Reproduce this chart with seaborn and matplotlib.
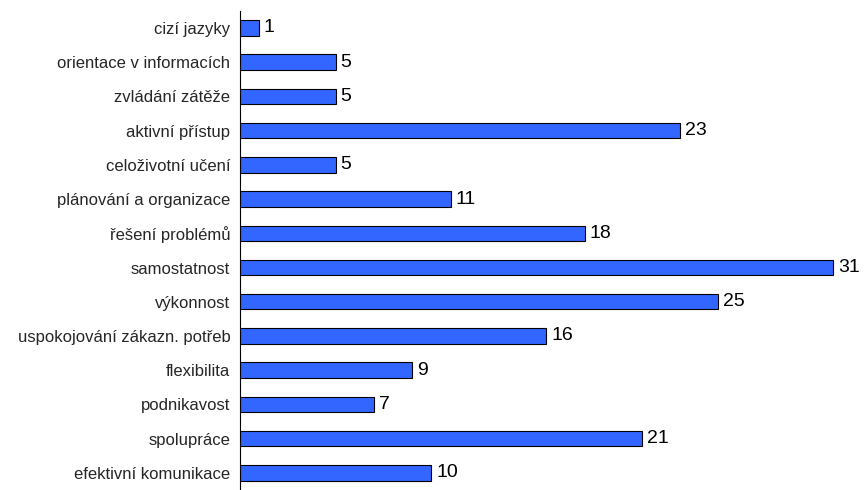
import matplotlib
matplotlib.use("Agg")
import matplotlib.pyplot as plt
import seaborn as sns
import pandas as pd
import numpy as np

# chart data (top to bottom)
categories = [
    "cizí jazyky",
    "orientace v informacích",
    "zvládání zátěže",
    "aktivní přístup",
    "celoživotní učení",
    "plánování a organizace",
    "řešení problémů",
    "samostatnost",
    "výkonnost",
    "uspokojování zákazn. potřeb",
    "flexibilita",
    "podnikavost",
    "spolupráce",
    "efektivní komunikace",
]
values = [1, 5, 5, 23, 5, 11, 18, 31, 25, 16, 9, 7, 21, 10]

df = pd.DataFrame({"kategorie": categories, "pocet": values})

sns.set_style("white")
plt.rcParams["font.family"] = ["Liberation Sans", "DejaVu Sans"]

fig = plt.figure(figsize=(8.65, 4.9), dpi=100)
ax = fig.add_axes([0.2775, 0.0, 0.708, 0.978])

sns.barplot(data=df, x="pocet", y="kategorie", orient="h", color="#3366FF",
            saturation=1, edgecolor="black", linewidth=0.8, width=0.45, ax=ax)

for i, v in enumerate(values):
    ax.text(v + 0.25, i, str(v), va="center", ha="left", fontsize=14, color="black")

ax.set_xlim(0, 32)
ax.set_ylim(len(categories) - 0.5, -0.5)
ax.set_xlabel("")
ax.set_ylabel("")
ax.set_xticks([])

for side in ["top", "right", "bottom"]:
    ax.spines[side].set_visible(False)
ax.spines["left"].set_color("black")
ax.spines["left"].set_linewidth(0.8)

# tick marks at category boundaries
ax.set_yticks(np.arange(len(categories)))
ax.set_yticklabels(categories, fontsize=12)
ax.set_yticks(np.arange(-0.5, len(categories), 1), minor=True)
ax.tick_params(axis="y", which="major", length=0, pad=7)
ax.tick_params(axis="y", which="minor", length=5, width=0.8, direction="out", color="black")

fig.savefig("out.png", dpi=100)
